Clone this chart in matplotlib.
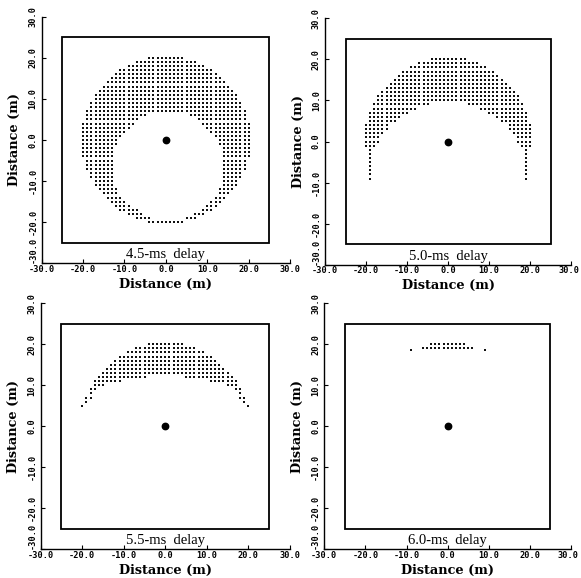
import numpy as np
import matplotlib
matplotlib.use('Agg')
import matplotlib.pyplot as plt
from matplotlib.patches import Rectangle
from matplotlib.transforms import ScaledTranslation

plt.rcParams['axes.unicode_minus'] = False

titles = ['4.5-ms  delay', '5.0-ms  delay', '5.5-ms  delay', '6.0-ms  delay']
ticks = [-30, -20, -10, 0, 10, 20, 30]
tick_labels = ['-30.0', '-20.0', '-10.0', '0.0', '10.0', '20.0', '30.0']
source_xy = (0, 0)

# 4.5 ms: full ring (rows of dots, outer half-width, hole excluded lo..hi)
p1_rows = list(range(20, -21, -1))
p1_half = [4, 7, 9, 11, 12, 13, 14, 15, 16, 17, 17, 18, 18, 19, 19, 19,
           20, 20, 20, 20, 20, 20, 20, 20, 20,
           19, 19, 19, 18, 18, 17, 17, 16, 15, 14, 13, 12, 11, 9, 7, 4]
p1_hole_rows = list(range(6, -20, -1))
p1_hole_lo = [-4, -6, -7, -8, -9, -10, -11, -11,
              -12, -12, -12, -12, -12, -12, -12, -12, -12, -12,
              -11, -11, -10, -9, -8, -6, -5, -3]
p1_hole_hi = [5, 7, 8, 9, 10, 11, 12, 12,
              13, 13, 13, 13, 13, 13, 13, 13, 13, 13,
              12, 12, 11, 10, 9, 8, 6, 4]

# 5.0 ms: crescent with arms down to -9 m
p2_rows = list(range(20, -10, -1))
p2_half = [4, 7, 9, 11, 12, 13, 14, 15, 16, 17, 17, 18, 18, 19, 19, 19,
           20, 20, 20, 20, 20, 20,
           19, 19, 19, 19, 19, 19, 19, 19]
p2_hole_rows = list(range(9, -10, -1))
p2_hole_hw = [4, 7, 9, 11, 12, 14, 14, 15, 16, 16, 17,
              18, 18, 18, 18, 18, 18, 18, 18]

# 5.5 ms: thinner crescent
p3_rows = list(range(20, 4, -1))
p3_half = [4, 7, 9, 11, 12, 13, 14, 15, 16, 17, 17, 18, 18, 19, 19, 20]
p3_hole_rows = list(range(12, 4, -1))
p3_hole_hw = [4, 10, 14, 16, 17, 17, 18, 19]

# 6.0 ms: two short rows near the top
p4_rows = [20, 19]
p4_half = [4, 6]
p4_extra_x = [-9, 9]
p4_extra_y = [18.5, 18.5]


def row_dots(rows, half, hole_rows=(), hole_lo=(), hole_hi=()):
    holes = dict(zip(hole_rows, zip(hole_lo, hole_hi)))
    xs, ys = [], []
    for y, w in zip(rows, half):
        x = np.arange(-w, w + 1)
        if y in holes:
            lo, hi = holes[y]
            x = x[(x < lo) | (x > hi)]
        xs.extend(x)
        ys.extend([y] * len(x))
    return np.array(xs, float), np.array(ys, float)


panels = [
    row_dots(p1_rows, p1_half, p1_hole_rows, p1_hole_lo, p1_hole_hi),
    row_dots(p2_rows, p2_half, p2_hole_rows,
             [-h for h in p2_hole_hw], p2_hole_hw),
    row_dots(p3_rows, p3_half, p3_hole_rows,
             [-h for h in p3_hole_hw], p3_hole_hw),
]
x4, y4 = row_dots(p4_rows, p4_half)
panels.append((np.concatenate([x4, p4_extra_x]),
               np.concatenate([y4, p4_extra_y])))

rects = [[0.0718, 0.5445, 0.4274, 0.4266],
         [0.5594, 0.5415, 0.4240, 0.4273],
         [0.0700, 0.0497, 0.4290, 0.4256],
         [0.5582, 0.0497, 0.4245, 0.4256]]

fig = plt.figure(figsize=(5.81, 5.78), dpi=100)
tick_font = dict(family='DejaVu Sans Mono', weight='bold', size=6.2)
label_font = dict(family='DejaVu Serif', weight='bold', size=9.3)

for i, (rect, (xs, ys), title) in enumerate(zip(rects, panels, titles)):
    ax = fig.add_axes(rect)
    ax.set_xlim(-30, 30)
    ax.set_ylim(-30, 30)
    for s in ['top', 'right']:
        ax.spines[s].set_visible(False)
    for s in ['left', 'bottom']:
        ax.spines[s].set_linewidth(1.0)

    ax.set_xticks(ticks)
    ax.set_yticks(ticks)
    ax.set_xticklabels(tick_labels, fontdict=tick_font)
    ax.set_yticklabels(tick_labels, fontdict=tick_font, rotation=90, va='center')
    ax.tick_params(direction='in', length=3, width=0.8, pad=1)
    ax.tick_params(axis='y', pad=3)
    # lowest y label sits above the x axis, as in the original
    ax.get_yticklabels()[0].set_va('bottom')
    if i % 2 == 1:
        lab = ax.get_xticklabels()[-1]
        lab.set_transform(lab.get_transform() +
                          ScaledTranslation(-2 / 72, 0, fig.dpi_scale_trans))

    ax.set_xlabel('Distance (m)', fontdict=label_font)
    ax.set_ylabel('Distance (m)', fontdict=label_font)
    ax.xaxis.set_label_coords(0.5, -0.058)
    ax.yaxis.set_label_coords(-0.082, 0.5)

    ax.add_patch(Rectangle((-25, -25), 50, 50, fill=False, lw=1.3, color='black'))
    ax.scatter(xs, ys, s=4.3, marker='s', linewidths=0, color='#111111')
    ax.plot(*source_xy, marker='o', ms=4.6, color='black')
    ax.text(0, -27.9, title, ha='center', va='center',
            family='Liberation Serif', size=10.5)

fig.savefig('out.png', dpi=100)
